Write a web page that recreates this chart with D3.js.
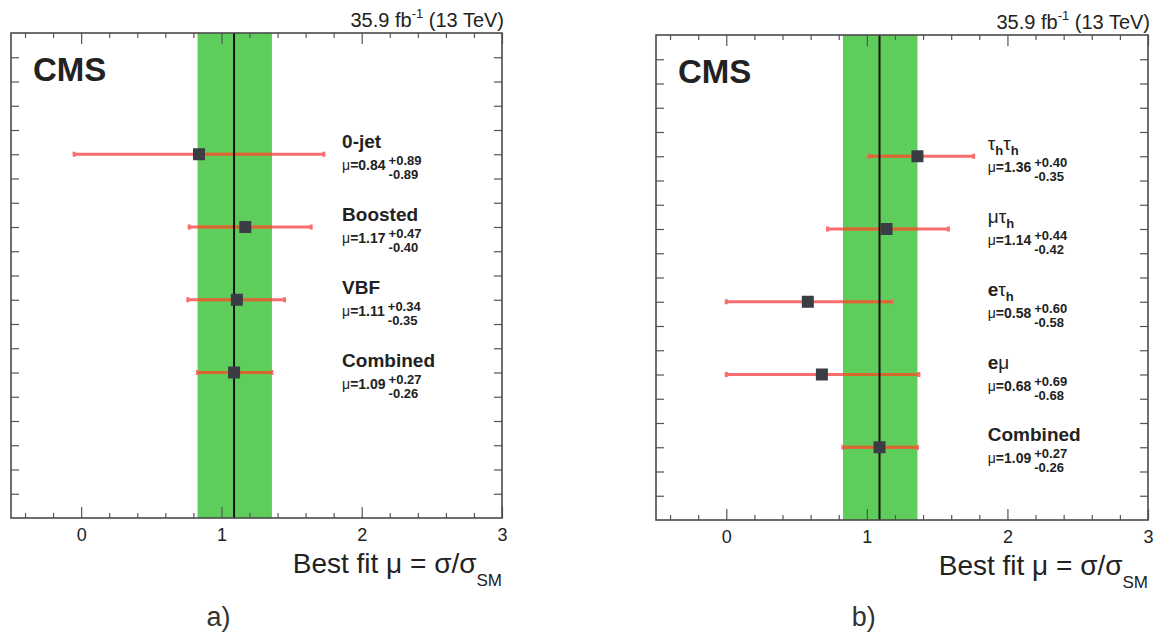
<!DOCTYPE html>
<html>
<head>
<meta charset="utf-8">
<script src="https://cdn.jsdelivr.net/npm/d3@7"></script>
<style>
  body { margin: 0; background: #fff; }
  text { font-family: "Liberation Sans", Arial, sans-serif; }
</style>
</head>
<body>
<div id="chart"></div>
<script>
// panel a) : categories
const catsA = ["0-jet", "Boosted", "VBF", "Combined"];
const muA = [0.84, 1.17, 1.11, 1.09];
const upA = [0.89, 0.47, 0.34, 0.27];
const dnA = [0.89, 0.40, 0.35, 0.26];
const rowsA = [5, 8, 11, 14];

// panel b) : channels ("_h" = subscript)
const catsB = ["τ_hτ_h", "μτ_h", "eτ_h", "eμ", "Combined"];
const muB = [1.36, 1.14, 0.58, 0.68, 1.09];
const upB = [0.40, 0.44, 0.60, 0.69, 0.27];
const dnB = [0.35, 0.42, 0.58, 0.68, 0.26];
const rowsB = [5, 8, 11, 14, 17];

const xMajorTicks = [0, 1, 2, 3];
const lumiText = "35.9 fb";

let width = 1165, height = 636;

let svg = d3.select("#chart")
  .append("svg")
    .attr("width", width)
    .attr("height", height);

const panels = [
  { cats: catsA, mu: muA, up: upA, dn: dnA, rows: rowsA, x0: 11, x1: 502, y0: 33, y1: 518, tag: "a)" },
  { cats: catsB, mu: muB, up: upB, dn: dnB, rows: rowsB, x0: 656, x1: 1148, y0: 35, y1: 520, tag: "b)" }
];

// write a label, "_x" parts become subscripts, greek letters not bold
function addLabel(t, str) {
  let parts = str.split(/(_.)/).filter(s => s.length);
  let back = 0;
  parts.forEach(s => {
    if (s[0] === "_") {
      t.append("tspan").attr("dy", 5 - back).attr("font-size", 13).attr("font-weight", "bold").text(s.slice(1));
      back = 5;
    } else {
      s.split("").forEach(c => {
        t.append("tspan")
          .attr("dy", -back)
          .attr("font-weight", /[τμ]/.test(c) ? "normal" : "bold")
          .text(c);
        back = 0;
      });
    }
  });
}

function draw(p) {
  let x = d3.scaleLinear().domain([-0.5, 3]).range([p.x0, p.x1]);
  let y = d3.scaleLinear().domain([0, 20]).range([p.y0, p.y1]);
  let g = svg.append("g");

  let n = p.mu.length - 1;
  let bandLo = p.mu[n] - p.dn[n], bandHi = p.mu[n] + p.up[n];

  // green band of the combined result
  g.append("rect")
    .attr("x", x(bandLo))
    .attr("y", p.y0)
    .attr("width", x(bandHi) - x(bandLo))
    .attr("height", p.y1 - p.y0)
    .attr("fill", "#5fcd5b");

  let idx = d3.range(p.mu.length);

  // error bars
  g.append("g")
    .selectAll("line")
    .data(idx)
    .enter()
    .append("line")
      .attr("x1", i => x(p.mu[i] - p.dn[i]))
      .attr("x2", i => x(p.mu[i] + p.up[i]))
      .attr("y1", i => y(p.rows[i]))
      .attr("y2", i => y(p.rows[i]))
      .attr("stroke", "#f86e6e")
      .attr("stroke-width", 3);

  // end caps
  g.append("g")
    .selectAll("rect")
    .data(idx.flatMap(i => [[i, p.mu[i] - p.dn[i]], [i, p.mu[i] + p.up[i]]]))
    .enter()
    .append("rect")
      .attr("x", d => x(d[1]) - 1.5)
      .attr("y", d => y(p.rows[d[0]]) - 2.5)
      .attr("width", 3)
      .attr("height", 5)
      .attr("fill", "#f86e6e");

  // part of the bars over the band
  g.append("g")
    .selectAll("line")
    .data(idx)
    .enter()
    .append("line")
      .attr("x1", i => x(Math.max(p.mu[i] - p.dn[i], bandLo)))
      .attr("x2", i => x(Math.min(p.mu[i] + p.up[i], bandHi)))
      .attr("y1", i => y(p.rows[i]))
      .attr("y2", i => y(p.rows[i]))
      .attr("stroke", "#d5682c")
      .attr("stroke-width", 3);

  // combined best fit line
  g.append("line")
    .attr("x1", x(p.mu[n])).attr("x2", x(p.mu[n]))
    .attr("y1", p.y0).attr("y2", p.y1)
    .attr("stroke", "#111")
    .attr("stroke-width", 2);

  // markers
  g.append("g")
    .selectAll("rect")
    .data(idx)
    .enter()
    .append("rect")
      .attr("x", i => x(p.mu[i]) - 6)
      .attr("y", i => y(p.rows[i]) - 6)
      .attr("width", 12)
      .attr("height", 12)
      .attr("fill", "#3a3e44");

  // axes, ticks pointing inward
  let minor = d3.range(-2, 15).map(i => i * 0.2).filter(v => Math.abs(v - Math.round(v)) > 1e-6);
  let yTicks = d3.range(1, 20);
  let style = a => {
    a.select(".domain").remove();
    a.selectAll(".tick line").attr("stroke", "#555").attr("stroke-width", 1.2);
  };

  g.append("g")
    .attr("transform", "translate(0," + p.y1 + ")")
    .call(d3.axisBottom(x).tickValues(xMajorTicks).tickSize(-11).tickPadding(10).tickFormat(d3.format("d")))
    .call(style)
    .call(a => a.selectAll("text").attr("font-size", 18).attr("fill", "#222")
      .attr("font-family", "'Liberation Sans', Arial, sans-serif"));
  g.append("g")
    .attr("transform", "translate(0," + p.y1 + ")")
    .call(d3.axisBottom(x).tickValues(minor).tickSize(-5).tickFormat(""))
    .call(style);
  g.append("g")
    .attr("transform", "translate(0," + p.y0 + ")")
    .call(d3.axisTop(x).tickValues(xMajorTicks).tickSize(-11).tickFormat(""))
    .call(style);
  g.append("g")
    .attr("transform", "translate(0," + p.y0 + ")")
    .call(d3.axisTop(x).tickValues(minor).tickSize(-5).tickFormat(""))
    .call(style);
  g.append("g")
    .attr("transform", "translate(" + p.x0 + ",0)")
    .call(d3.axisLeft(y).tickValues(yTicks).tickSize(-8).tickFormat(""))
    .call(style);
  g.append("g")
    .attr("transform", "translate(" + p.x1 + ",0)")
    .call(d3.axisRight(y).tickValues(yTicks).tickSize(-8).tickFormat(""))
    .call(style);

  // frame
  g.append("rect")
    .attr("x", p.x0).attr("y", p.y0)
    .attr("width", p.x1 - p.x0).attr("height", p.y1 - p.y0)
    .attr("fill", "none")
    .attr("stroke", "#4a4a4a")
    .attr("stroke-width", 1.6);

  // category labels
  let lx = x(1.86);
  idx.forEach(i => {
    let yy = y(p.rows[i]);
    let t = g.append("text")
      .attr("x", lx).attr("y", yy - 6)
      .attr("font-size", 19).attr("fill", "#222");
    addLabel(t, p.cats[i]);

    let m = g.append("text")
      .attr("x", lx).attr("y", yy + 16)
      .attr("font-size", 14).attr("fill", "#222");
    m.append("tspan").text("μ");
    m.append("tspan").attr("font-weight", "bold").text("=" + p.mu[i].toFixed(2));
    let w = m.node().getComputedTextLength();

    g.append("text")
      .attr("x", lx + w + 3).attr("y", yy + 11)
      .attr("font-size", 13).attr("font-weight", "bold").attr("fill", "#222")
      .text("+" + p.up[i].toFixed(2));
    g.append("text")
      .attr("x", lx + w + 3).attr("y", yy + 25)
      .attr("font-size", 13).attr("font-weight", "bold").attr("fill", "#222")
      .text("-" + p.dn[i].toFixed(2));
  });

  // CMS
  g.append("text")
    .attr("x", p.x0 + 22).attr("y", p.y0 + 48)
    .attr("font-size", 33).attr("font-weight", "bold").attr("fill", "#222")
    .text("CMS");

  // luminosity
  let lt = g.append("text")
    .attr("x", p.x1 + 2).attr("y", p.y0 - 6)
    .attr("text-anchor", "end")
    .attr("font-size", 20).attr("fill", "#222");
  lt.append("tspan").text(lumiText);
  lt.append("tspan").attr("font-size", 13).attr("dy", -9).text("-1");
  lt.append("tspan").attr("dy", 9).text(" (13 TeV)");

  // x axis title
  let xt = g.append("text")
    .attr("x", p.x1).attr("y", p.y1 + 55)
    .attr("text-anchor", "end")
    .attr("font-size", 28).attr("fill", "#222");
  xt.append("tspan").text("Best fit μ = σ/σ");
  xt.append("tspan").attr("font-size", 17).attr("dy", 13).text("SM");

  // panel tag
  g.append("text")
    .attr("x", x(1) - 3).attr("y", 626)
    .attr("text-anchor", "middle")
    .attr("font-family", "'Liberation Serif', 'DejaVu Serif', serif")
    .attr("font-size", 27).attr("fill", "#333")
    .text(p.tag);
}

panels.forEach(draw);
</script>
</body>
</html>
